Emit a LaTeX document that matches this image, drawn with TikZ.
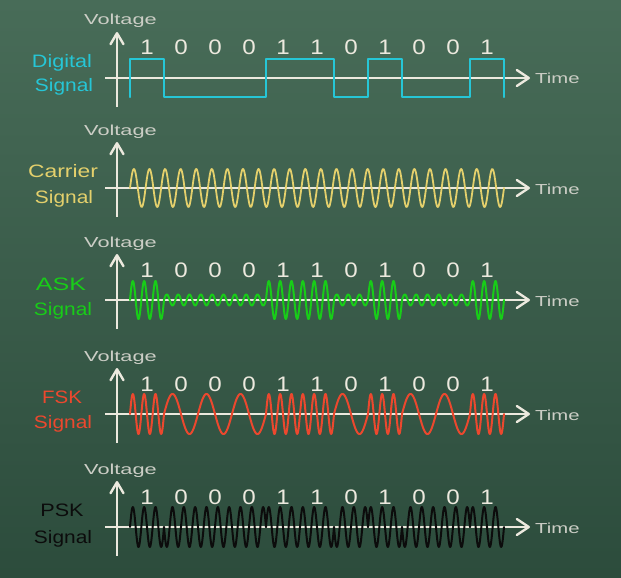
\documentclass[tikz,border=0pt]{standalone}
\usepackage{fontspec}
\setmainfont{Liberation Sans}
\usetikzlibrary{arrows.meta}
\definecolor{bgtop}{RGB}{72,108,88}
\definecolor{bgbot}{RGB}{44,76,60}
\definecolor{chalk}{RGB}{236,233,222}
\definecolor{chalkgray}{RGB}{204,206,198}
\definecolor{cdig}{RGB}{38,198,214}
\definecolor{ccar}{RGB}{228,208,108}
\definecolor{cask}{RGB}{24,204,24}
\definecolor{cfsk}{RGB}{236,72,46}
\definecolor{cpsk}{RGB}{12,12,12}
\newcommand{\wideT}[2]{\scalebox{#1}[1]{#2}}
\begin{document}
\begin{tikzpicture}[x=1pt,y=-1pt,
  haxis/.style={draw=chalk, line width=2.4pt, -{Straight Barb[length=12pt,width=16pt,round]}},
  vaxis/.style={draw=chalk, line width=2.4pt, -{Straight Barb[length=11pt,width=13pt,round]}},
  small/.style={inner sep=0pt, anchor=base, text=chalkgray, font=\fontsize{14.5}{16}\selectfont},
  digit/.style={inner sep=0pt, anchor=base, text=chalk, font=\fontsize{21}{24}\selectfont},
  lab/.style={inner sep=0pt, anchor=base, font=\fontsize{18}{20}\selectfont},
  wave/.style={line width=2pt, line join=round, line cap=round},
  digsig/.style={wave, draw=cdig, line width=2.2pt},
  carsig/.style={wave, draw=ccar, line width=1.8pt},
  asksig/.style={wave, draw=cask},
  fsksig/.style={wave, draw=cfsk},
  psksig/.style={wave, draw=cpsk}]
\useasboundingbox (0,0) rectangle (621,578);
\shade[top color=bgtop, bottom color=bgbot] (0,0) rectangle (621,578);
% axes and axis labels
\foreach \p/\Y in {0/78,1/188,2/300,3/414,4/527}{
  \coordinate (hs\p) at (105,\Y);
  \coordinate (he\p) at (530,\Y);
  \coordinate (vs\p) at (117,\Y+29);
  \coordinate (ve\p) at (117,\Y-46);
  \draw[haxis] (hs\p) -- (he\p);
  \draw[vaxis] (vs\p) -- (ve\p);
  \node[small] (volt\p) at (120.5,\Y-53) {\wideT{1.5}{Voltage}};
  \node[small, anchor=base west] (time\p) at (535,\Y+6) {\wideT{1.4}{Time}};
}
% bit labels
\foreach \p/\Y in {0/78,2/300,3/414,4/527}{
  \foreach \b [count=\i from 0] in {1,0,0,0,1,1,0,1,0,0,1}{
    \node[digit] (bit\p-\i) at (147+34*\i,\Y-23) {\wideT{1.15}{\b}};
  }
}
% digital signal
\draw[digsig] (130,97) -- (130,59) -- (164,59) -- (164,97) -- (266,97) -- (266,59)
  -- (334,59) -- (334,97) -- (368,97) -- (368,59) -- (402,59) -- (402,97)
  -- (470,97) -- (470,59) -- (504,59) -- (504,97);
% carrier
\draw[carsig] plot[domain=0:374, samples=800] ({130+\x}, {188-19*sin(23.1016*\x)});
% ASK
\foreach \b [count=\i from 0] in {1,0,0,0,1,1,0,1,0,0,1}{
  \pgfmathsetmacro\amp{\b==1 ? 19 : 5.5}
  \draw[asksig] plot[domain=0:34, samples=80] ({130+34*\i+\x}, {300-\amp*sin(31.7647*\x)});
}
% FSK
\foreach \b [count=\i from 0] in {1,0,0,0,1,1,0,1,0,0,1}{
  \pgfmathsetmacro\frq{\b==1 ? 31.7647 : 10.5882}
  \draw[fsksig] plot[domain=0:34, samples=80] ({130+34*\i+\x}, {414-20*sin(\frq*\x)});
}
% PSK
\foreach \b [count=\i from 0] in {1,0,0,0,1,1,0,1,0,0,1}{
  \pgfmathsetmacro\sgn{\b==1 ? 1 : -1}
  \draw[psksig] plot[domain=0:34, samples=80] ({130+34*\i+\x}, {527-\sgn*20*sin(31.7647*\x)});
}
% signal names
\node[lab, text=cdig] (digA) at (62,67) {\wideT{1.2}{Digital}};
\node[lab, text=cdig] (digB) at (64,92) {\wideT{1.16}{Signal}};
\node[lab, text=ccar] (carA) at (63,177) {\wideT{1.27}{Carrier}};
\node[lab, text=ccar] (carB) at (64,203) {\wideT{1.16}{Signal}};
\node[lab, text=cask] (askA) at (61,290) {\wideT{1.39}{ASK}};
\node[lab, text=cask] (askB) at (63,315) {\wideT{1.16}{Signal}};
\node[lab, text=cfsk] (fskA) at (62,403) {\wideT{1.14}{FSK}};
\node[lab, text=cfsk] (fskB) at (63,428) {\wideT{1.16}{Signal}};
\node[lab, text=cpsk] (pskA) at (62,516) {\wideT{1.2}{PSK}};
\node[lab, text=cpsk] (pskB) at (63,543) {\wideT{1.16}{Signal}};
\end{tikzpicture}
\end{document}
